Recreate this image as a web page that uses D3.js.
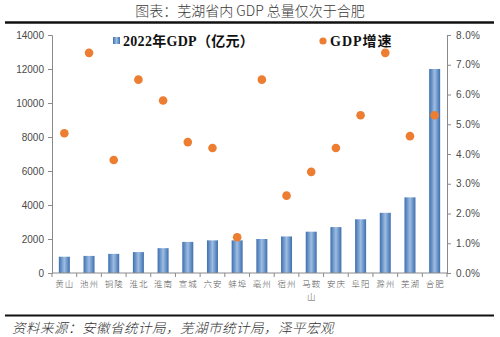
<!DOCTYPE html>
<html><head><meta charset="utf-8">
<script src="https://cdn.jsdelivr.net/npm/d3@7"></script>
<style>
body{margin:0;background:#fff;}
svg{display:block;}
</style></head>
<body>
<svg id="c" width="500" height="337"></svg>
<script>
const cities = ["黄山","池州","铜陵","淮北","淮南","宣城","六安","蚌埠","亳州","宿州","马鞍山","安庆","阜阳","滁州","芜湖","合肥"];
const gdp2022 = [957,1005,1125,1230,1460,1830,1920,1920,2000,2150,2430,2700,3160,3540,4450,12000];
const growth = [4.7,7.4,3.8,6.5,5.8,4.4,4.2,1.2,6.5,2.6,3.4,4.2,5.3,7.4,4.6,5.3];
const leftTicks = [0,2000,4000,6000,8000,10000,12000,14000];
const rightTicks = [0,1,2,3,4,5,6,7,8];
const titleText = "图表：芜湖省内 GDP 总量仅次于合肥";
const sourceText = "资料来源：安徽省统计局，芜湖市统计局，泽平宏观";
const legendBar = "2022年GDP（亿元）";
const legendDot = "GDP增速";

const svg = d3.select("#c");
const L = 52, R = 447, T = 35, B = 273;
const x = d3.scaleBand().domain(cities).range([L, R]);
const yL = d3.scaleLinear().domain([0,14000]).range([B, T]);
const yR = d3.scaleLinear().domain([0,8]).range([B, T]);

const defs = svg.append("defs");
const g = defs.append("linearGradient").attr("id","bg").attr("x1","0").attr("x2","1").attr("y1","0").attr("y2","0");
g.append("stop").attr("offset","0").attr("stop-color","#3d6fae");
g.append("stop").attr("offset","0.5").attr("stop-color","#9dbde3");
g.append("stop").attr("offset","1").attr("stop-color","#3d6fae");

// title
svg.append("text").attr("x",250).attr("y",16).attr("text-anchor","middle")
  .attr("font-family","'Noto Sans CJK SC', sans-serif").attr("font-size",14).attr("font-weight",300).attr("fill","#3a3a3a")
  .text(titleText);
svg.append("line").attr("x1",5).attr("x2",494).attr("y1",22.5).attr("y2",22.5).attr("stroke","#111").attr("stroke-width",2.5);

// axes
const axisColor = "#8a8a8a";
const gl = svg.append("g").attr("transform",`translate(${L},0)`)
  .call(d3.axisLeft(yL).tickValues(leftTicks).tickSize(4).tickPadding(4).tickFormat(d3.format("d")));
const gr = svg.append("g").attr("transform",`translate(${R},0)`)
  .call(d3.axisRight(yR).tickValues(rightTicks).tickSize(4).tickPadding(5).tickFormat(d=>d3.format(".1f")(d)+"%"));
[gl,gr].forEach(a=>{
  a.selectAll("path,line").attr("stroke",axisColor);
  a.selectAll("text").attr("font-family","'Liberation Sans', Arial, sans-serif").attr("font-size",10).attr("fill","#4a4a4a");
});
gr.selectAll("text").attr("letter-spacing",0.4);

// bars
svg.append("g").selectAll("rect").data(cities).join("rect")
  .attr("x",d=>x(d)+x.bandwidth()/2-5.5).attr("width",11)
  .attr("y",(d,i)=>yL(gdp2022[i])).attr("height",(d,i)=>B-yL(gdp2022[i]))
  .attr("fill","url(#bg)");

// x axis
const gx = svg.append("g").attr("transform",`translate(0,${B})`);
gx.append("line").attr("x1",L).attr("x2",R).attr("stroke",axisColor);
gx.selectAll("line.t").data(d3.range(cities.length+1)).join("line").attr("class","t")
  .attr("x1",i=>L+i*x.step()).attr("x2",i=>L+i*x.step()).attr("y1",0).attr("y2",4).attr("stroke",axisColor);
gx.selectAll("text").data(cities).join("text")
  .attr("text-anchor","middle").attr("font-family","'Noto Sans CJK SC', sans-serif").attr("font-size",8.5)
  .attr("fill","#555").attr("font-weight",300)
  .each(function(d){
    const t = d3.select(this);
    const cx = x(d)+x.bandwidth()/2;
    if(d.length>2){
      t.append("tspan").attr("x",cx+0.5).attr("y",14).attr("letter-spacing",1).text(d.slice(0,2));
      t.append("tspan").attr("x",cx).attr("y",27).text(d.slice(2));
    } else {
      t.append("tspan").attr("x",cx+0.5).attr("y",14).attr("letter-spacing",1).text(d);
    }
  });

// dots
svg.append("g").selectAll("circle").data(cities).join("circle")
  .attr("cx",d=>x(d)+x.bandwidth()/2).attr("cy",(d,i)=>yR(growth[i])).attr("r",4.3)
  .attr("fill","#ec7d31");

// legend
svg.append("rect").attr("x",113).attr("y",37).attr("width",7).attr("height",7).attr("fill","url(#bg)");
svg.append("text").attr("x",123).attr("y",46).attr("font-family","'Liberation Serif','Noto Sans CJK SC', serif")
  .attr("font-weight","bold").attr("font-size",14).attr("letter-spacing",0.3).attr("fill","#111").text(legendBar);
svg.append("circle").attr("cx",323).attr("cy",41).attr("r",3.6).attr("fill","#ec7d31");
svg.append("text").attr("x",330).attr("y",46).attr("font-family","'Liberation Serif','Noto Sans CJK SC', serif")
  .attr("font-weight","bold").attr("font-size",14).attr("letter-spacing",1).attr("fill","#111").text(legendDot);

// bottom
svg.append("line").attr("x1",5).attr("x2",494).attr("y1",315.5).attr("y2",315.5).attr("stroke","#111").attr("stroke-width",2);
svg.append("text").attr("x",12).attr("y",333).attr("font-family","'Noto Sans CJK SC', sans-serif")
  .attr("font-size",13.5).attr("font-style","italic").attr("font-weight",300).attr("fill","#333")
  .attr("letter-spacing",0.5).text(sourceText);
</script>
</body></html>
